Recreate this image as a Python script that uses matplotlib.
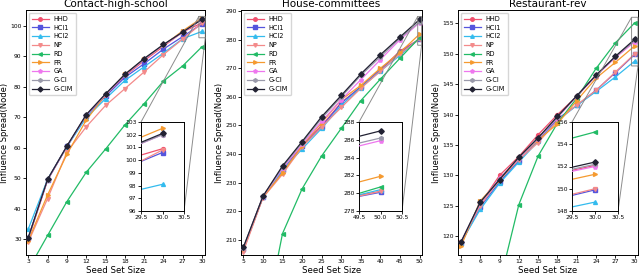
import matplotlib
matplotlib.use("Agg")
import matplotlib.pyplot as plt
import numpy as np

methods = ["HHD", "HCI1", "HCI2", "NP", "RD", "PR", "GA", "G-CI", "G-CIM"]
colors = ["#f0506e", "#5555dd", "#33bbee", "#f38a8a", "#22bb66", "#f59a30", "#ee77ee", "#9a9aab", "#222233"]
markers = ["o", "s", "^", "v", "<", ">", "p", "h", "D"]

titles = ["Contact-high-school", "House-committees", "Restaurant-rev"]

x1 = [3, 6, 9, 12, 15, 18, 21, 24, 27, 30]
x2 = [5, 10, 15, 20, 25, 30, 35, 40, 45, 50]
x3 = [3, 6, 9, 12, 15, 18, 21, 24, 27, 30]

hs_HHD = [30.0, 49.3, 60.3, 70.5, 77.3, 83.5, 88.5, 93.2, 97.9, 100.9]
hs_HCI1 = [30.5, 49.5, 60.4, 70.3, 76.8, 83.0, 87.5, 92.3, 96.4, 100.6]
hs_HCI2 = [33.3, 49.6, 60.3, 69.8, 76.0, 82.0, 86.5, 91.0, 95.7, 98.1]
hs_NP = [29.0, 43.3, 58.5, 66.8, 73.8, 79.3, 84.8, 90.5, 95.6, 100.8]
hs_RD = [20.0, 31.2, 42.3, 51.9, 59.5, 67.4, 74.4, 81.8, 86.8, 93.1]
hs_PR = [29.5, 44.5, 57.8, 69.0, 77.3, 84.0, 89.0, 93.5, 98.3, 102.5]
hs_GA = [30.3, 49.4, 60.4, 70.6, 77.4, 83.8, 88.9, 93.6, 97.8, 102.0]
hs_GCI = [30.4, 49.5, 60.5, 70.7, 77.5, 83.9, 89.0, 93.7, 97.9, 102.0]
hs_GCIM = [30.5, 49.6, 60.5, 70.8, 77.6, 84.0, 89.2, 93.8, 97.9, 102.1]

hc_HHD = [206.5, 225.0, 234.0, 243.0, 250.0, 258.0, 263.5, 269.5, 276.0, 280.2]
hc_HCI1 = [206.8, 225.0, 234.5, 243.0, 249.5, 257.8, 263.5, 269.5, 275.5, 280.1]
hc_HCI2 = [207.0, 225.0, 234.5, 241.8, 249.0, 257.0, 263.2, 269.0, 274.5, 280.4]
hc_NP = [206.0, 224.8, 233.0, 242.5, 249.5, 256.3, 263.0, 269.0, 275.0, 280.2]
hc_RD = [150.0, 178.0, 212.3, 227.9, 239.4, 249.0, 258.7, 266.2, 273.5, 280.7]
hc_PR = [207.0, 225.0, 233.5, 243.0, 251.0, 259.0, 264.0, 270.0, 275.5, 281.9]
hc_GA = [207.2, 225.2, 235.0, 243.5, 251.5, 259.0, 266.0, 273.0, 280.0, 285.9]
hc_GCI = [207.3, 225.3, 235.5, 244.0, 252.5, 260.0, 267.5, 274.0, 280.5, 286.2]
hc_GCIM = [207.5, 225.3, 235.9, 244.4, 253.1, 260.5, 268.0, 274.7, 280.9, 287.0]

rr_HHD = [119.0, 125.3, 130.0, 133.1, 136.7, 140.0, 143.0, 146.5, 149.4, 152.1]
rr_HCI1 = [118.8, 124.8, 128.9, 132.4, 135.8, 139.3, 141.5, 144.0, 146.9, 149.9]
rr_HCI2 = [118.9, 124.4, 128.7, 132.2, 135.6, 139.0, 141.5, 143.8, 146.2, 148.8]
rr_NP = [119.0, 125.0, 129.3, 132.6, 135.4, 139.0, 141.6, 144.0, 147.0, 150.0]
rr_RD = [95.0, 104.0, 112.2, 125.2, 133.2, 138.6, 142.7, 147.6, 151.8, 155.1]
rr_PR = [118.3, 125.8, 129.2, 132.9, 135.8, 138.5, 142.3, 146.0, 148.6, 151.3]
rr_GA = [119.0, 125.4, 129.5, 132.8, 136.0, 139.5, 143.0, 146.4, 149.4, 152.0]
rr_GCI = [119.0, 125.5, 129.4, 132.9, 136.1, 139.6, 143.1, 146.5, 149.5, 152.2]
rr_GCIM = [119.0, 125.6, 129.3, 133.0, 136.2, 139.7, 143.1, 146.5, 149.6, 152.4]

panels = [
    (x1, [hs_HHD, hs_HCI1, hs_HCI2, hs_NP, hs_RD, hs_PR, hs_GA, hs_GCI, hs_GCIM]),
    (x2, [hc_HHD, hc_HCI1, hc_HCI2, hc_NP, hc_RD, hc_PR, hc_GA, hc_GCI, hc_GCIM]),
    (x3, [rr_HHD, rr_HCI1, rr_HCI2, rr_NP, rr_RD, rr_PR, rr_GA, rr_GCI, rr_GCIM]),
]

xlims = [(2.65, 30.45), (4.4, 50.6), (2.55, 30.5)]
ylims = [(24.8, 105.1), (204.8, 290.3), (116.9, 157.2)]
yticks = [np.arange(30, 101, 10), np.arange(210, 291, 10), np.arange(120, 156, 5)]
inset_x = [(29.5, 30.5), (49.5, 50.5), (29.5, 30.5)]
inset_y = [(96, 103), (278, 288), (148, 156)]
inset_yt = [np.arange(96, 104, 1), np.arange(278, 289, 2), np.arange(148, 157, 2)]
inset_xt = [[29.5, 30.0, 30.5], [49.5, 50.0, 50.5], [29.5, 30.0, 30.5]]

W, H = 640, 274
fig = plt.figure(figsize=(6.4, 2.74), dpi=100)
ax_px = [(26, 205), (241, 422), (458, 638)]
ins_px = [(141, 184), (359, 402), (572, 618)]
top, bot = 10, 255
itop, ibot = 122, 211

for i, (xs, series) in enumerate(panels):
    l, r = ax_px[i]
    ax = fig.add_axes([l / W, 1 - bot / H, (r - l) / W, (bot - top) / H])
    for k, ys in enumerate(series):
        ax.plot(xs, ys, color=colors[k], marker=markers[k], markersize=2.8,
                linewidth=0.9, label=methods[k], zorder=2 + k * 0.1)
    ax.set_xlim(*xlims[i])
    ax.set_ylim(*ylims[i])
    ax.set_xticks(xs)
    ax.set_yticks(yticks[i])
    ax.tick_params(labelsize=4.3, length=2, pad=1.2, width=0.6)
    for s in ax.spines.values():
        s.set_linewidth(0.7)
    ax.set_title(titles[i], fontsize=7.5, pad=2)
    ax.set_xlabel("Seed Set Size", fontsize=6.2, labelpad=1)
    ax.set_ylabel("Influence Spread(Node)", fontsize=6.0, labelpad=1)
    ax.legend(loc="upper left", fontsize=4.7, handlelength=2.6, borderpad=0.5,
              labelspacing=0.42, handletextpad=0.7, framealpha=0.8,
              borderaxespad=0.4, markerscale=0.9)

    il, ir = ins_px[i]
    axins = fig.add_axes([il / W, 1 - ibot / H, (ir - il) / W, (ibot - itop) / H])
    for k, ys in enumerate(series):
        axins.plot(xs, ys, color=colors[k], marker=markers[k], markersize=2.8,
                   linewidth=0.9, zorder=2 + k * 0.1)
    axins.set_xlim(*inset_x[i])
    axins.set_ylim(*inset_y[i])
    axins.set_xticks(inset_xt[i])
    axins.set_yticks(inset_yt[i])
    axins.set_xticklabels([f"{v:.1f}" for v in inset_xt[i]])
    axins.tick_params(labelsize=4.3, length=2, pad=1.2, width=0.6)
    for s in axins.spines.values():
        s.set_linewidth(0.7)
    ax.indicate_inset_zoom(axins, edgecolor="gray", alpha=0.9, linewidth=0.7)

fig.savefig("out.png", dpi=100)
